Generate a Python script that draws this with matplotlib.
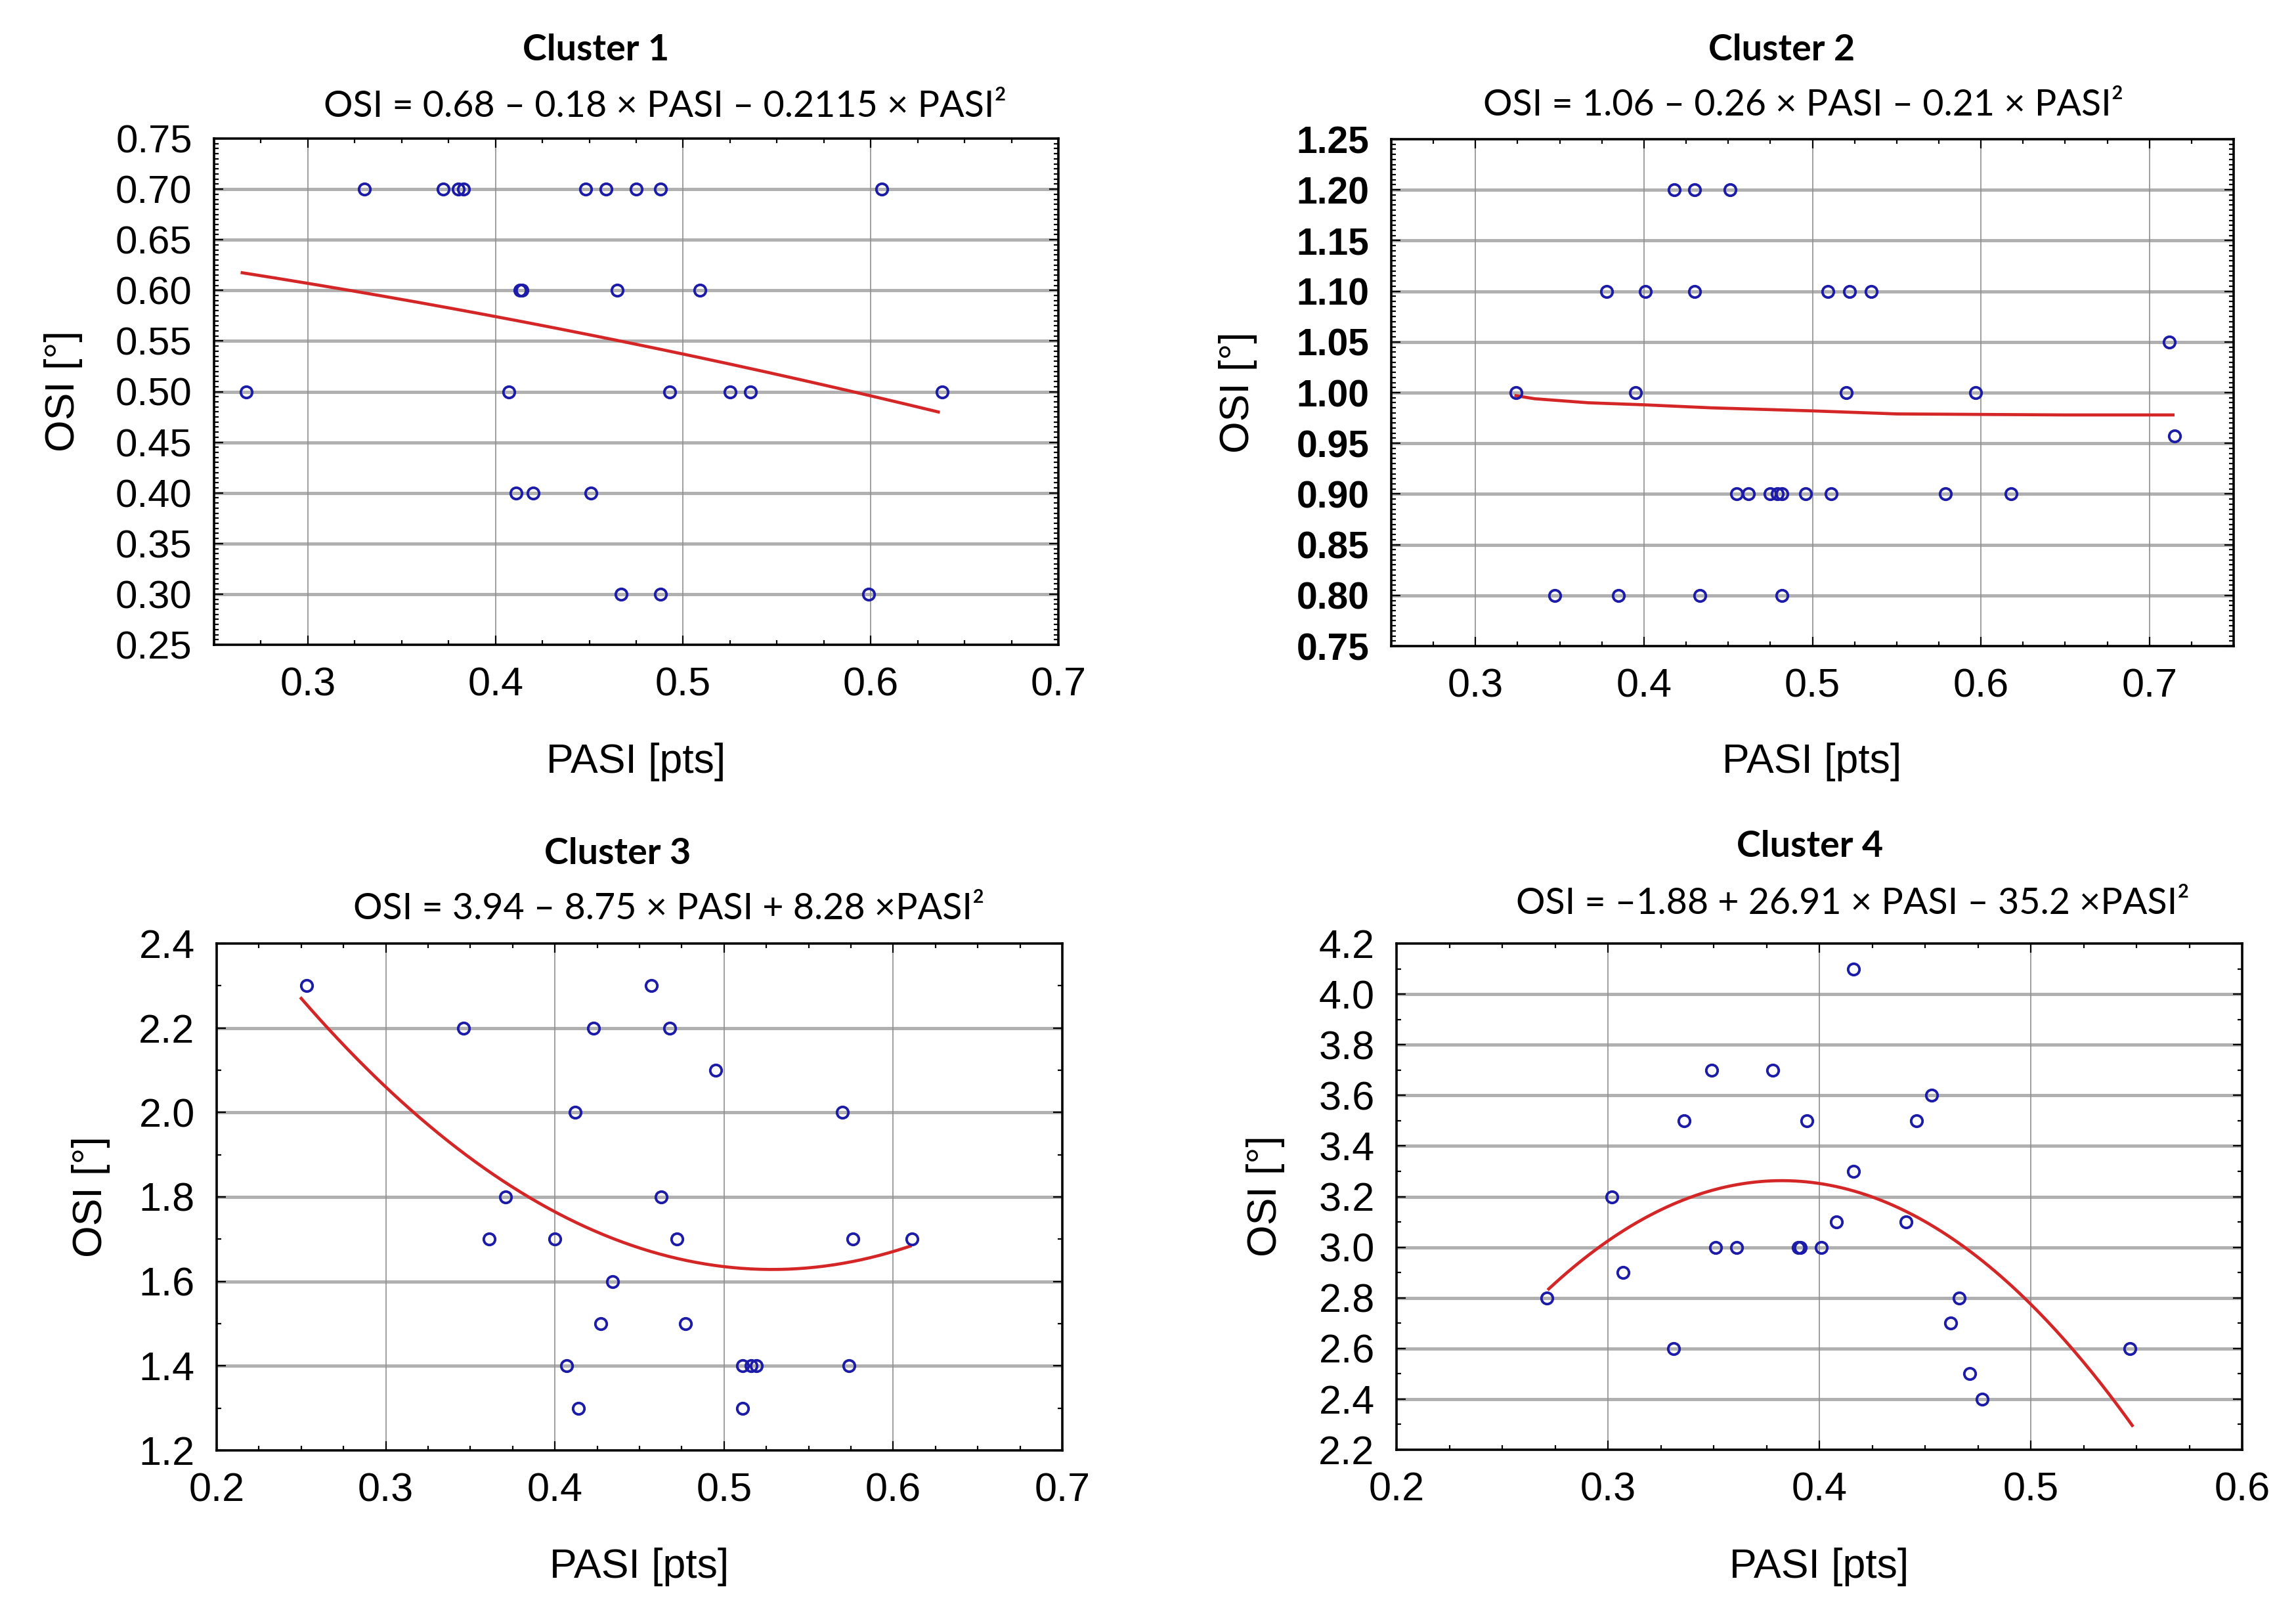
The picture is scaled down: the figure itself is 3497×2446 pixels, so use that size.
import numpy as np
import matplotlib
matplotlib.use("Agg")
import matplotlib.pyplot as plt
from matplotlib.ticker import MultipleLocator, FormatStrFormatter

# ---------------- data ----------------
# Cluster 1
c1_pasi = [0.330, 0.372, 0.380, 0.383, 0.448, 0.459, 0.475, 0.488, 0.606,
           0.413, 0.414, 0.465, 0.509,
           0.267, 0.407, 0.493, 0.525, 0.536, 0.638,
           0.411, 0.420, 0.451,
           0.467, 0.488, 0.599]
c1_osi = [0.70, 0.70, 0.70, 0.70, 0.70, 0.70, 0.70, 0.70, 0.70,
          0.60, 0.60, 0.60, 0.60,
          0.50, 0.50, 0.50, 0.50, 0.50, 0.50,
          0.40, 0.40, 0.40,
          0.30, 0.30, 0.30]
c1_coef = [-0.2115, -0.18, 0.68]      # PASI^2, PASI, const
c1_range = [0.265, 0.636]

# Cluster 2
c2_pasi = [0.418, 0.430, 0.451,
           0.378, 0.401, 0.430, 0.509, 0.522, 0.535,
           0.712,
           0.324, 0.395, 0.520, 0.597,
           0.715,
           0.455, 0.462, 0.475, 0.479, 0.482, 0.496, 0.511, 0.579, 0.618,
           0.347, 0.385, 0.433, 0.482]
c2_osi = [1.20, 1.20, 1.20,
          1.10, 1.10, 1.10, 1.10, 1.10, 1.10,
          1.05,
          1.00, 1.00, 1.00, 1.00,
          0.957,
          0.90, 0.90, 0.90, 0.90, 0.90, 0.90, 0.90, 0.90, 0.90,
          0.80, 0.80, 0.80, 0.80]
c2_fit_pasi = [0.324, 0.335, 0.367, 0.400, 0.440, 0.500, 0.550, 0.650, 0.714]
c2_fit_osi = [0.997, 0.994, 0.990, 0.988, 0.985, 0.982, 0.979, 0.978, 0.978]

# Cluster 3
c3_pasi = [0.253, 0.457, 0.346, 0.423, 0.468, 0.495, 0.412, 0.570,
           0.371, 0.463, 0.361, 0.400, 0.472, 0.576, 0.611,
           0.434, 0.427, 0.477, 0.407, 0.511, 0.516, 0.519, 0.574,
           0.414, 0.511]
c3_osi = [2.30, 2.30, 2.20, 2.20, 2.20, 2.10, 2.00, 2.00,
          1.80, 1.80, 1.70, 1.70, 1.70, 1.70, 1.70,
          1.60, 1.50, 1.50, 1.40, 1.40, 1.40, 1.40, 1.40,
          1.30, 1.30]
c3_coef = [8.28, -8.75, 3.94]
c3_range = [0.250, 0.610]

# Cluster 4
c4_pasi = [0.416, 0.349, 0.378, 0.453, 0.336, 0.394, 0.446, 0.416,
           0.302, 0.408, 0.441, 0.351, 0.361, 0.390, 0.391, 0.401,
           0.307, 0.271, 0.466, 0.462, 0.331, 0.547, 0.471, 0.477]
c4_osi = [4.10, 3.70, 3.70, 3.60, 3.50, 3.50, 3.50, 3.30,
          3.20, 3.10, 3.10, 3.00, 3.00, 3.00, 3.00, 3.00,
          2.90, 2.80, 2.80, 2.70, 2.60, 2.60, 2.50, 2.40]
c4_coef = [-35.2, 26.91, -1.88]
c4_range = [0.272, 0.548]

titles = ["Cluster 1", "Cluster 2", "Cluster 3", "Cluster 4"]
equations = ["OSI = 0.68 \u2013 0.18 \u00d7 PASI \u2013 0.2115 \u00d7 PASI\u00b2",
             "OSI = 1.06 \u2013 0.26 \u00d7 PASI \u2013 0.21 \u00d7 PASI\u00b2",
             "OSI = 3.94 \u2013 8.75 \u00d7 PASI + 8.28 \u00d7PASI\u00b2",
             "OSI = \u20131.88 + 26.91 \u00d7 PASI \u2013 35.2 \u00d7PASI\u00b2"]
x_label = "PASI [pts]"
y_label = "OSI [\u00b0]"

# ---------------- layout ----------------
W, H = 3497, 2446
fig = plt.figure(figsize=(W / 100, H / 100), dpi=100)
fig.patch.set_facecolor("white")

TICKFONT = ["Liberation Sans", "DejaVu Sans"]
TITLEFONT = ["Lato", "DejaVu Sans"]
BLUE = "#1c1ca8"
RED = "#d42626"


def rect(l, r, t, b):
    return [l / W, 1 - b / H, (r - l) / W, (b - t) / H]


panels = [
    dict(rect=rect(326, 1612, 211, 982), xlim=(0.25, 0.70), ylim=(0.25, 0.75),
         xmaj=0.1, ymaj=0.05, ymin=0.005, yfmt="%.2f", ybold=False, ysize=43,
         title=(908, 76), eq=(1013, 163), xl=(969, 1161), yl=(97, 596)),
    dict(rect=rect(2119, 3402, 212, 984), xlim=(0.25, 0.75), ylim=(0.75, 1.25),
         xmaj=0.1, ymaj=0.05, ymin=0.005, yfmt="%.2f", ybold=True, ysize=41,
         title=(2714, 76), eq=(2747, 160), xl=(2760, 1161), yl=(1886, 598)),
    dict(rect=rect(330, 1618, 1437, 2209), xlim=(0.20, 0.70), ylim=(1.2, 2.4),
         xmaj=0.1, ymaj=0.2, ymin=0.1, yfmt="%.1f", ybold=False, ysize=44,
         title=(941, 1300), eq=(1019, 1385), xl=(974, 2387), yl=(138, 1823)),
    dict(rect=rect(2127, 3415, 1437, 2208), xlim=(0.20, 0.60), ylim=(2.2, 4.2),
         xmaj=0.1, ymaj=0.2, ymin=0.1, yfmt="%.1f", ybold=False, ysize=44,
         title=(2757, 1289), eq=(2822, 1377), xl=(2771, 2387), yl=(1928, 1822)),
]

scatter_x = [c1_pasi, c2_pasi, c3_pasi, c4_pasi]
scatter_y = [c1_osi, c2_osi, c3_osi, c4_osi]
fits = [(c1_coef, c1_range), None, (c3_coef, c3_range), (c4_coef, c4_range)]

for i, p in enumerate(panels):
    ax = fig.add_axes(p["rect"])
    ax.set_xlim(*p["xlim"])
    ax.set_ylim(*p["ylim"])

    ax.xaxis.set_major_locator(MultipleLocator(p["xmaj"]))
    ax.xaxis.set_minor_locator(MultipleLocator(0.025))
    ax.yaxis.set_major_locator(MultipleLocator(p["ymaj"]))
    ax.yaxis.set_minor_locator(MultipleLocator(p["ymin"]))
    ax.xaxis.set_major_formatter(FormatStrFormatter("%.1f"))
    ax.yaxis.set_major_formatter(FormatStrFormatter(p["yfmt"]))

    xt = [t for t in np.arange(0.2, 0.8001, p["xmaj"])
          if p["xlim"][0] - 1e-9 <= t <= p["xlim"][1] + 1e-9]
    ax.set_xticks(xt)

    ax.grid(False)
    for yv in ax.get_yticks():
        if p["ylim"][0] + 1e-9 < yv < p["ylim"][1] - 1e-9:
            ax.axhline(yv, color="#b0b0b0", lw=3.6, zorder=0.5)
    for xv in xt:
        if p["xlim"][0] + 1e-9 < xv < p["xlim"][1] - 1e-9:
            ax.axvline(xv, color="#8f8f8f", lw=1.2, zorder=0.6)

    ax.tick_params(which="both", direction="in", top=True, right=True,
                   width=1.6, color="black")
    ax.tick_params(which="major", length=10)
    ax.tick_params(which="minor", length=5)
    ax.tick_params(axis="y", which="major", pad=24)
    ax.tick_params(axis="x", which="major", pad=24)
    for lab in ax.get_xticklabels():
        lab.set_fontfamily(TICKFONT)
        lab.set_fontsize(44)
    for lab in ax.get_yticklabels():
        lab.set_fontfamily(TICKFONT)
        lab.set_fontsize(p["ysize"])
        if p["ybold"]:
            lab.set_fontweight("bold")

    for s in ax.spines.values():
        s.set_linewidth(2.6)
        s.set_color("black")

    ax.plot(scatter_x[i], scatter_y[i], linestyle="none", marker="o",
            ms=12.5, mfc="none", mec=BLUE, mew=2.8, zorder=4)

    if fits[i] is not None:
        coef, rng = fits[i]
        xs = np.linspace(rng[0], rng[1], 200)
        ax.plot(xs, np.polyval(coef, xs), color=RED, lw=3.4, zorder=3)
    else:
        ax.plot(c2_fit_pasi, c2_fit_osi, color=RED, lw=3.4, zorder=3)

    tx, ty = p["title"]
    fig.text(tx / W, 1 - ty / H, titles[i], ha="center", va="center",
             fontsize=40, fontweight="bold", family=TITLEFONT)
    ex, ey = p["eq"]
    fig.text(ex / W, 1 - ey / H, equations[i], ha="center", va="center",
             fontsize=40, family=TITLEFONT)
    lx, ly = p["xl"]
    fig.text(lx / W, 1 - ly / H, x_label, ha="center", va="center",
             fontsize=45, family=TICKFONT)
    yx, yy = p["yl"]
    fig.text(yx / W, 1 - yy / H, y_label, ha="center", va="center",
             rotation=90, fontsize=45, family=TICKFONT)

fig.savefig("out.png", dpi=100, facecolor="white")
